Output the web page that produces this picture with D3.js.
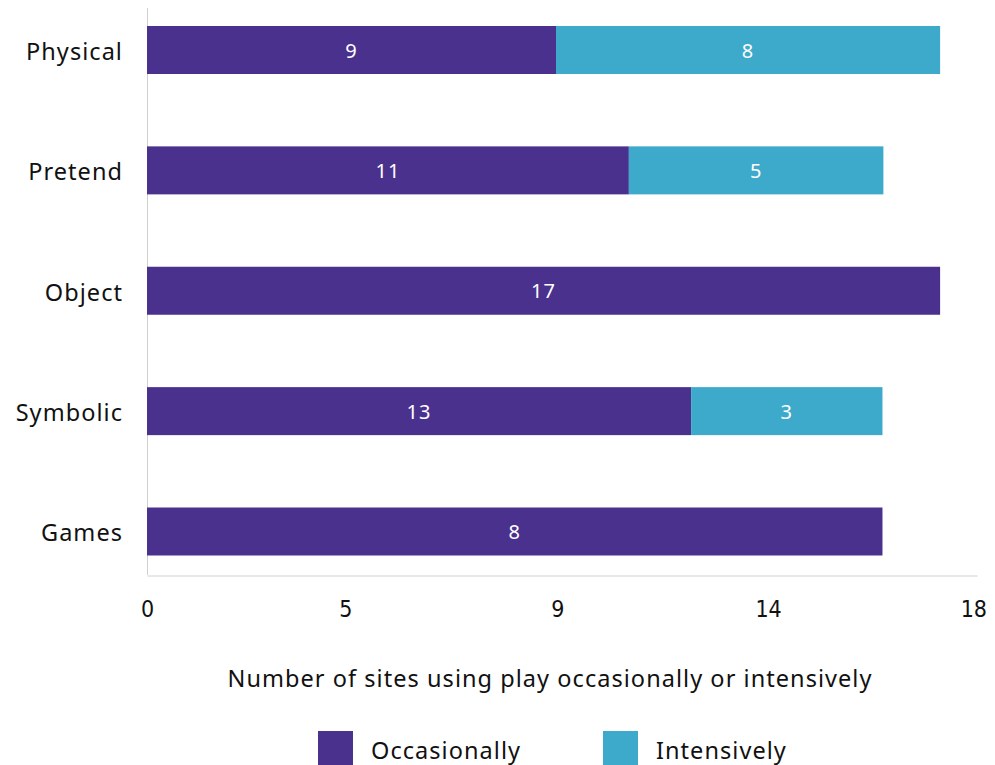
<!DOCTYPE html>
<html>
<head>
<meta charset="utf-8">
<script src="https://cdn.jsdelivr.net/npm/d3@7"></script>
<style>
  body { margin: 0; background: #fff; }
  text { font-family: "Noto Sans", Lato, sans-serif; letter-spacing: 1.05px; }
</style>
</head>
<body>
<div id="chart"></div>
<script>
// categories, top to bottom
var categories = ["Physical", "Pretend", "Object", "Symbolic", "Games"];

// bar lengths
var occasionally = [8.87, 10.45, 17.2, 11.8, 15.95];
var intensively = [8.33, 5.52, 0, 4.15, 0];

// printed labels inside the bars
var occLabels = ["9", "11", "17", "13", "8"];
var intLabels = ["8", "5", "", "3", ""];

// axis ticks: where they sit and what they say
var tickValues = [0, 4.3, 8.9, 13.47, 17.92];
var tickLabels = ["0", "5", "9", "14", "18"];

var width = 995;
var height = 765;
var purple = "#4b318e";
var blue = "#3eaacb";

var svg = d3.select("#chart")
  .append("svg")
  .attr("width", width)
  .attr("height", height);

var xScale = d3.scaleLinear()
  .domain([0, 18])
  .range([147, 977]);

var yScale = d3.scalePoint()
  .domain(categories)
  .range([50, 531.5]);

var barH = 48;

// left axis line
svg.append("line")
  .attr("x1", 147.5).attr("x2", 147.5)
  .attr("y1", 8).attr("y2", 575)
  .attr("stroke", "#d0d0d0").attr("stroke-width", 1);

var xAxis = d3.axisBottom(xScale)
  .tickValues(tickValues)
  .tickSize(0)
  .tickPadding(25)
  .tickFormat(function (d, i) { return tickLabels[i]; });

var gx = svg.append("g")
  .attr("transform", "translate(0,575.5)")
  .call(xAxis);
gx.select(".domain").attr("stroke", "#d0d0d0");
gx.selectAll("text")
  .attr("fill", "#111")
  .style("font-family", "'Liberation Sans Narrow', 'DejaVu Sans Condensed', sans-serif")
  .style("letter-spacing", "0px")
  .style("font-size", "23px");

// category labels
svg.selectAll(".cat")
  .data(categories)
  .enter()
  .append("text")
  .attr("class", "cat")
  .attr("x", 123)
  .attr("y", function (d) { return yScale(d); })
  .attr("dy", "0.42em")
  .attr("text-anchor", "end")
  .attr("fill", "#111")
  .style("font-size", "23.5px")
  .text(function (d) { return d; });

// bars
var rows = categories.map(function (c, i) {
  return { cat: c, occ: occasionally[i], int: intensively[i], occL: occLabels[i], intL: intLabels[i] };
});

var g = svg.selectAll(".row").data(rows).enter().append("g").attr("class", "row");

g.append("rect")
  .attr("x", xScale(0))
  .attr("y", function (d) { return yScale(d.cat) - barH / 2; })
  .attr("width", function (d) { return xScale(d.occ) - xScale(0); })
  .attr("height", barH)
  .attr("fill", purple);

g.filter(function (d) { return d.int > 0; })
  .append("rect")
  .attr("x", function (d) { return xScale(d.occ); })
  .attr("y", function (d) { return yScale(d.cat) - barH / 2; })
  .attr("width", function (d) { return xScale(d.occ + d.int) - xScale(d.occ); })
  .attr("height", barH)
  .attr("fill", blue);

g.append("text")
  .attr("x", function (d) { return (xScale(0) + xScale(d.occ)) / 2; })
  .attr("y", function (d) { return yScale(d.cat); })
  .attr("dy", "0.38em")
  .attr("text-anchor", "middle")
  .attr("fill", "#fff")
  .style("font-size", "20px")
  .text(function (d) { return d.occL; });

g.filter(function (d) { return d.int > 0; })
  .append("text")
  .attr("x", function (d) { return (xScale(d.occ) + xScale(d.occ + d.int)) / 2; })
  .attr("y", function (d) { return yScale(d.cat); })
  .attr("dy", "0.38em")
  .attr("text-anchor", "middle")
  .attr("fill", "#fff")
  .style("font-size", "20px")
  .text(function (d) { return d.intL; });

// x axis title
svg.append("text")
  .attr("x", 550)
  .attr("y", 687)
  .attr("text-anchor", "middle")
  .attr("fill", "#111")
  .style("font-size", "23.5px")
  .text("Number of sites using play occasionally or intensively");

// legend
var legend = [
  { name: "Occasionally", color: purple, x: 318 },
  { name: "Intensively", color: blue, x: 603 }
];
var lg = svg.selectAll(".legend").data(legend).enter().append("g").attr("class", "legend");
lg.append("rect")
  .attr("x", function (d) { return d.x; })
  .attr("y", 731)
  .attr("width", 35)
  .attr("height", 35)
  .attr("fill", function (d) { return d.color; });
lg.append("text")
  .attr("x", function (d) { return d.x + 53; })
  .attr("y", 759)
  .attr("fill", "#111")
  .style("font-size", "23.5px")
  .text(function (d) { return d.name; });
</script>
</body>
</html>
